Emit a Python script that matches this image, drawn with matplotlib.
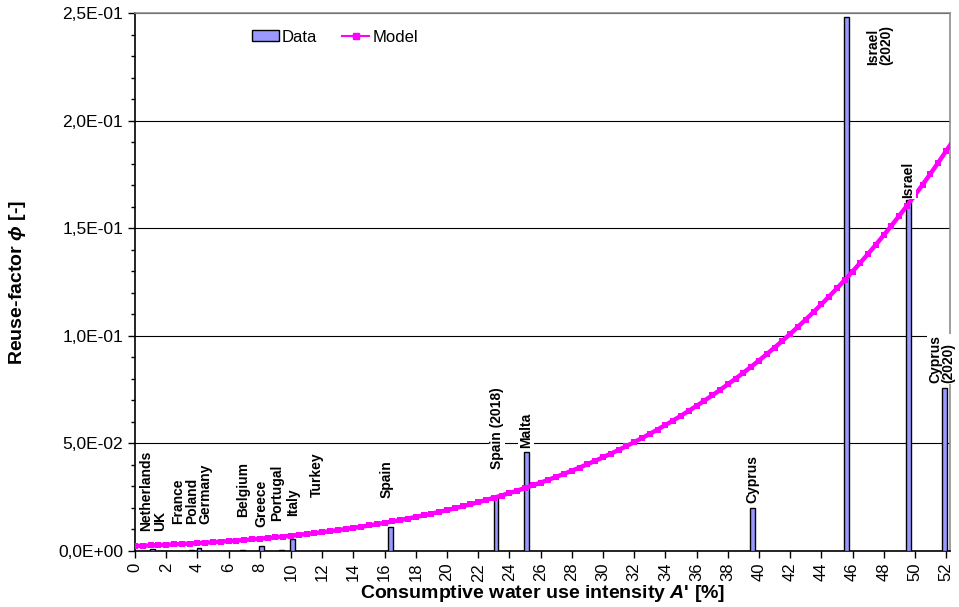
import matplotlib
matplotlib.use("Agg")
import matplotlib.pyplot as plt
from matplotlib.ticker import MultipleLocator, FuncFormatter
from matplotlib.lines import Line2D
from matplotlib.patches import Patch

plt.rcParams["font.family"] = ["Liberation Sans", "DejaVu Sans"]
plt.rcParams["mathtext.fontset"] = "custom"
plt.rcParams["mathtext.rm"] = "Liberation Sans:bold"
plt.rcParams["mathtext.it"] = "Liberation Sans:italic:bold"
plt.rcParams["mathtext.bf"] = "Liberation Sans:bold"
plt.rcParams["mathtext.fallback"] = "stixsans"

# Observed reuse factors per country (consumptive water use intensity in %)
bar_x = [1.1, 3.6, 4.1, 6.9, 8.1, 9.4, 10.1, 11.4, 16.4, 23.15, 25.1, 39.6, 45.6, 49.6, 51.9]
bar_phi = [0.0011, 0.0003, 0.0012, 0.0005, 0.0025, 0.0006, 0.0054, 0.0002,
           0.0112, 0.0257, 0.0459, 0.0201, 0.248, 0.163, 0.0756]

# Country labels
label_text = ["Netherlands\nUK", "France\nPoland\nGermany", "Belgium", "Greece", "Portugal",
              "Italy", "Turkey", "Spain", "Spain (2018)", "Malta", "Cyprus",
              "Israel\n(2020)", "Israel", "Cyprus\n(2020)"]

# Modelled reuse factor
model_x = [0.0, 0.5, 1.0, 1.5, 2.0, 2.5, 3.0, 3.5, 4.0, 4.5, 5.0, 5.5, 6.0, 6.5, 7.0, 7.5,
           8.0, 8.5, 9.0, 9.5, 10.0, 10.5, 11.0, 11.5, 12.0, 12.5, 13.0, 13.5, 14.0, 14.5,
           15.0, 15.5, 16.0, 16.5, 17.0, 17.5, 18.0, 18.5, 19.0, 19.5, 20.0, 20.5, 21.0,
           21.5, 22.0, 22.5, 23.0, 23.5, 24.0, 24.5, 25.0, 25.5, 26.0, 26.5, 27.0, 27.5,
           28.0, 28.5, 29.0, 29.5, 30.0, 30.5, 31.0, 31.5, 32.0, 32.5, 33.0, 33.5, 34.0,
           34.5, 35.0, 35.5, 36.0, 36.5, 37.0, 37.5, 38.0, 38.5, 39.0, 39.5, 40.0, 40.5,
           41.0, 41.5, 42.0, 42.5, 43.0, 43.5, 44.0, 44.5, 45.0, 45.5, 46.0, 46.5, 47.0,
           47.5, 48.0, 48.5, 49.0, 49.5, 50.0, 50.5, 51.0, 51.5, 52.0, 52.5]
model_phi = [0.00230, 0.00244, 0.00259, 0.00274, 0.00291, 0.00308, 0.00326, 0.00345,
             0.00365, 0.00387, 0.00409, 0.00433, 0.00458, 0.00484, 0.00511, 0.00540,
             0.00571, 0.00603, 0.00636, 0.00671, 0.00708, 0.00747, 0.00788, 0.00830,
             0.00875, 0.00921, 0.00969, 0.01020, 0.01072, 0.01127, 0.01184, 0.01244,
             0.01306, 0.01370, 0.01437, 0.01507, 0.01579, 0.01654, 0.01732, 0.01813,
             0.01897, 0.01984, 0.02074, 0.02168, 0.02265, 0.02365, 0.02470, 0.02577,
             0.02689, 0.02804, 0.02924, 0.03047, 0.03175, 0.03306, 0.03442, 0.03582,
             0.03727, 0.03876, 0.04030, 0.04188, 0.04351, 0.04519, 0.04692, 0.04870,
             0.05055, 0.05244, 0.05440, 0.05642, 0.05849, 0.06063, 0.06282, 0.06509,
             0.06741, 0.06980, 0.07226, 0.07479, 0.07739, 0.08005, 0.08279, 0.08560,
             0.08849, 0.09145, 0.09450, 0.09763, 0.10084, 0.10414, 0.10753, 0.11101,
             0.11459, 0.11825, 0.12203, 0.12589, 0.12985, 0.13392, 0.13808, 0.14234,
             0.14672, 0.15121, 0.15581, 0.16051, 0.16533, 0.17027, 0.17533, 0.18051,
             0.18582, 0.19125]

# Placement of the country labels (x centre, y of the label's lower edge)
label_pos = [(1.15, 0.0093), (3.65, 0.0125), (6.92, 0.0158), (8.08, 0.0112), (9.1, 0.0140),
             (10.13, 0.0163), (11.67, 0.0251), (16.15, 0.0246), (23.2, 0.0381),
             (25.06, 0.0479), (39.55, 0.0223), (47.75, 0.226), (49.55, 0.164),
             (51.73, 0.0781)]

BAR_COLOR = "#9999FF"
MODEL_COLOR = "#FF00FF"

fig = plt.figure(figsize=(9.59, 6.07), dpi=100)
ax = fig.add_axes([0.1408, 0.0923, 0.8498, 0.8863])

ax.bar(bar_x, bar_phi, width=0.3, color=BAR_COLOR, edgecolor="black", linewidth=1.0, zorder=3)
ax.plot(model_x, model_phi, color=MODEL_COLOR, linewidth=3.2, marker="s", markersize=4.8,
        markeredgewidth=0, zorder=4)

for txt, (lx, ly) in zip(label_text, label_pos):
    ax.text(lx, ly, txt, rotation=90, ha="center", va="bottom", fontsize=10,
            fontweight="bold", multialignment="left", linespacing=0.95,
            bbox=dict(facecolor="white", edgecolor="none", pad=0.5), zorder=5, clip_on=False)

ax.set_xlim(0, 52.25)
ax.set_ylim(0, 0.25)
ax.xaxis.set_major_locator(MultipleLocator(2))
ax.yaxis.set_major_locator(MultipleLocator(0.05))
ax.yaxis.set_minor_locator(MultipleLocator(0.01))
ax.yaxis.set_major_formatter(FuncFormatter(lambda v, p: f"{v:.1E}".replace(".", ",")))
ax.xaxis.set_major_formatter(FuncFormatter(lambda v, p: f"{int(round(v))}"))

ax.tick_params(axis="x", labelrotation=90, labelsize=12, length=5, width=1, direction="out")
ax.tick_params(axis="y", which="major", labelsize=12.5, length=5, width=1, direction="out")
ax.tick_params(axis="y", which="minor", length=3, width=1, direction="out")

ax.grid(axis="y", which="major", color="black", linewidth=0.8, zorder=0)
ax.set_axisbelow(True)

for side in ("top", "right"):
    ax.spines[side].set_color("#8c8c8c")
    ax.spines[side].set_linewidth(1.2)
for side in ("left", "bottom"):
    ax.spines[side].set_color("black")
    ax.spines[side].set_linewidth(1.2)

ax.set_ylabel(r"Reuse-factor $\phi$ [-]", fontsize=14, fontweight="bold", labelpad=22)
ax.set_xlabel("Consumptive water use intensity $A$' [%]", fontsize=14, fontweight="bold",
              labelpad=1)

handles = [Patch(facecolor=BAR_COLOR, edgecolor="black", linewidth=1.0, label="Data"),
           Line2D([0], [0], color=MODEL_COLOR, linewidth=1.5, marker="s", markersize=4,
                  label="Model")]
fig.legend(handles=handles, loc="center left", bbox_to_anchor=(237 / 959, 1 - 37 / 607),
           ncol=2, frameon=False, fontsize=12, handlelength=1.6, handleheight=0.6,
           handletextpad=0.2, columnspacing=1.5)

fig.savefig("out.png", dpi=100)
